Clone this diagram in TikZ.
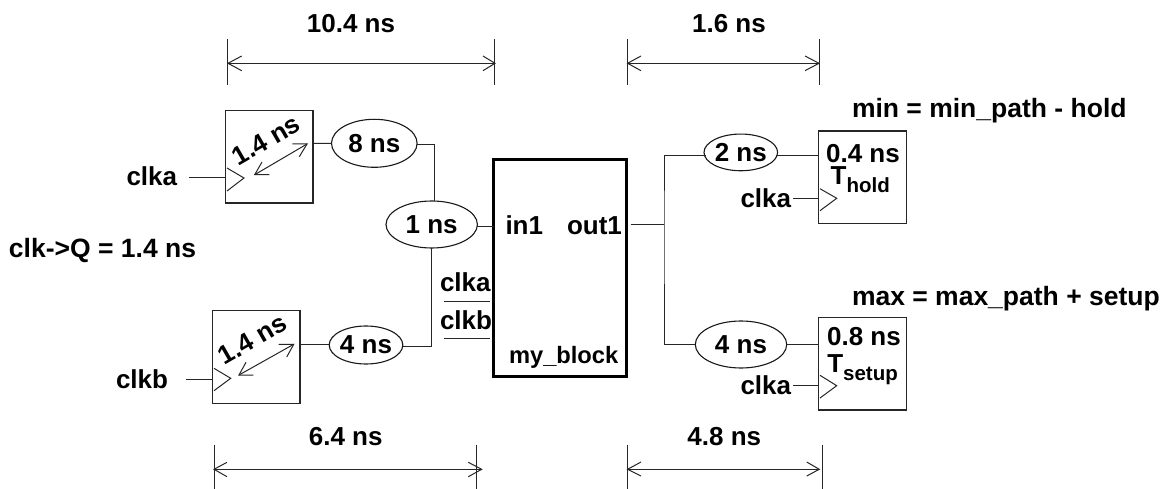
\documentclass[tikz,border=0pt]{standalone}
\usepackage{fontspec}
\setmainfont{Liberation Sans}
\usetikzlibrary{shapes.geometric}
\newcommand{\lbl}{\fontsize{26}{30}\selectfont\bfseries}
\newcommand{\lblb}{\fontsize{26.5}{30}\selectfont\bfseries}
\newcommand{\subl}{\fontsize{20.5}{24}\selectfont\bfseries}
\tikzset{
  wire/.style={line width=1pt,draw=black!85},
  dly/.style={ellipse,draw=black!90,line width=1.1pt,inner sep=0pt,outer sep=0pt,font=\lbl},
  ff/.style={rectangle,draw=black!85,line width=1.2pt,inner sep=0pt,outer sep=0pt,minimum width=87.5pt,minimum height=92.5pt},
  txt/.style={inner sep=0pt,outer sep=0pt,font=\lbl,anchor=base},
  txtl/.style={inner sep=0pt,outer sep=0pt,font=\lbl,anchor=base west},
  txtb/.style={inner sep=0pt,outer sep=0pt,font=\lblb,anchor=base west},
  smalltxt/.style={inner sep=0pt,outer sep=0pt,font=\fontsize{23.7}{28}\selectfont\bfseries,anchor=base west},
}
\begin{document}
\begin{tikzpicture}[x=1pt,y=-1pt,line join=miter]
\useasboundingbox (0,0) rectangle (1167,489);
% blocks
\node[ff] (ffa) at (269.3,156.8) {};
\node[ff] (ffb) at (256.2,357) {};
\node[ff] (ffh) at (862.5,177.2) {};
\node[ff] (ffs) at (862.5,363.8) {};
\node[rectangle,draw=black,line width=3pt,inner sep=0pt,outer sep=0pt,minimum width=132.7pt,minimum height=216.7pt] (blk) at (560.3,268.3) {};
% delays
\node[dly,minimum width=85.6pt,minimum height=48pt] (d8) at (374.3,143.3) {8 ns};
\node[dly,minimum width=91.4pt,minimum height=47pt] (d1) at (431.7,224.5) {1 ns};
\node[dly,minimum width=73.4pt,minimum height=38pt] (d4) at (366,345) {4 ns};
\node[dly,minimum width=69.7pt,minimum height=36.7pt] (d2) at (740.8,152.4) {2 ns};
\node[dly,minimum width=91.4pt,minimum height=47pt] (d4r) at (741,344.5) {4 ns};
% helper coordinates
\coordinate (j8a) at (331.7,143.5);
\coordinate (j8b) at (417,144.5);
\coordinate (j1t) at (434.7,201.5);
\coordinate (j1b) at (431.7,248);
\coordinate (j4) at (402.7,346);
\coordinate (in1w) at (477.3,227);
\coordinate (in1e) at (494,227);
\coordinate (ffao) at (313,143.3);
\coordinate (ffbo) at (300,344.7);
\coordinate (d4w) at (329.3,344.7);
\coordinate (outa) at (630.7,225);
\coordinate (outj) at (664,225);
\coordinate (outt) at (706,155.7);
\coordinate (outb) at (695.3,344);
\coordinate (d2e) at (775.7,155.5);
\coordinate (hi) at (819,155.5);
\coordinate (d4e) at (786.7,344.7);
\coordinate (si) at (819,344.7);
\coordinate (cai) at (189,178);
\coordinate (caf) at (225.5,178);
\coordinate (cbi) at (186,379.3);
\coordinate (cbf) at (212.3,379.3);
\coordinate (chi) at (793,199);
\coordinate (chf) at (819,199);
\coordinate (csi) at (793,385);
\coordinate (csf) at (819,385);
% wires
\draw[wire] (ffao) -- (j8a);
\draw[wire] (j8b) -| (j1t);
\draw[wire] (j1b) |- (j4);
\draw[wire] (ffbo) -- (d4w);
\draw[wire] (in1w) -- (in1e);
\draw[wire] (outa) -- (outj);
\draw[wire] (outb) -| (outj) |- (outt);
\draw[wire] (d2e) -- (hi);
\draw[wire] (d4e) -- (si);
\draw[wire] (cai) -- (caf);
\draw[wire] (cbi) -- (cbf);
\draw[wire] (chi) -- (chf);
\draw[wire] (csi) -- (csf);
% clock triangles
\draw[wire] (227,168) -- (244,178) -- (227,191);
\draw[wire] (214,368.3) -- (230.7,378.3) -- (214,390.7);
\draw[wire] (820,188.7) -- (836.7,198.3) -- (820,210.7);
\draw[wire] (820,375.3) -- (836.7,385.7) -- (820,398);
% clock-to-Q arrows
\coordinate (aa) at (254.7,174.7); \coordinate (ab) at (307,144);
\draw[wire] (aa) -- (ab);
\draw[wire] (292.3,144) -- (ab) -- (299.3,156.7);
\draw[wire] (269.3,174.7) -- (aa) -- (262,162);
\coordinate (ba) at (239,375); \coordinate (bb) at (293.7,344.3);
\draw[wire] (ba) -- (bb);
\draw[wire] (278.7,344.3) -- (bb) -- (286.7,357);
\draw[wire] (253.3,375) -- (ba) -- (246,362.3);
% dimension ticks
\coordinate (t1a) at (227.7,39); \coordinate (t1b) at (227.7,85);
\coordinate (t2a) at (494.7,39); \coordinate (t2b) at (494.7,85);
\coordinate (t3a) at (627.3,39); \coordinate (t3b) at (627.3,85);
\coordinate (t4a) at (819,39); \coordinate (t4b) at (819,85);
\coordinate (t5a) at (214.7,444.7); \coordinate (t5b) at (214.7,489);
\coordinate (t6a) at (476.7,444.7); \coordinate (t6b) at (476.7,489);
\coordinate (t7a) at (627.3,444.7); \coordinate (t7b) at (627.3,489);
\coordinate (t8a) at (822,444.7); \coordinate (t8b) at (822,489);
\foreach \k in {1,...,8} {\draw[wire] (t\k a) -- (t\k b);}
% dimension arrows
\coordinate (a1l) at (228,63.3); \coordinate (a1r) at (495,63.3);
\draw[wire] (a1l) -- (a1r);
\draw[wire] (241.7,56) -- (a1l) -- (241.7,70.7);
\draw[wire] (483,56) -- (a1r) -- (483,70.7);
\coordinate (a2l) at (627.6,63.3); \coordinate (a2r) at (819,63.3);
\draw[wire] (a2l) -- (a2r);
\draw[wire] (641,56) -- (a2l) -- (641,70.7);
\draw[wire] (805,56) -- (a2r) -- (805,70.7);
\coordinate (a3l) at (214,469.3); \coordinate (a3r) at (481.7,469.3);
\draw[wire] (a3l) -- (a3r);
\draw[wire] (227,462.3) -- (a3l) -- (227,476.7);
\draw[wire] (468.3,462.3) -- (a3r) -- (468.3,476.7);
\coordinate (a4l) at (627.6,469.3); \coordinate (a4r) at (819.3,469.3);
\draw[wire] (a4l) -- (a4r);
\draw[wire] (641,462) -- (a4l) -- (641,476);
\draw[wire] (806.7,462) -- (a4r) -- (806.7,476);
% clka/clkb underlines
\coordinate (u1a) at (444,301); \coordinate (u1b) at (490,301);
\coordinate (u2a) at (444,338.3); \coordinate (u2b) at (490,338.3);
\draw[wire] (u1a) -- (u1b);
\draw[wire] (u2a) -- (u2b);
% texts
\node[txt] (l1) at (351,32.3) {10.4 ns};
\node[txt] (l2) at (729,32.3) {1.6 ns};
\node[txt] (l3) at (345.7,445) {6.4 ns};
\node[txt] (l4) at (724.3,445) {4.8 ns};
\node[txtb] (l5) at (852,118) {min = min\_path - hold};
\node[txtb] (l6) at (852,305) {max = max\_path + setup};
\node[txtb] (l7) at (9,257.7) {clk->Q = 1.4 ns};
\node[txtl] (l8) at (126.5,186) {clka};
\node[txtl] (l9) at (116,388.3) {clkb};
\node[txtl] (l10) at (440,291.7) {clka};
\node[txtl] (l11) at (440,329) {clkb};
\node[txtl] (l12) at (505.5,235) {in1};
\node[txtl] (l13) at (567,235) {out1};
\node[smalltxt] (l14) at (509,363.5) {my\_block};
\node[txtl] (l15) at (740.5,207.7) {clka};
\node[txtl] (l16) at (740.5,394) {clka};
\node[txt] (l17) at (863,162.7) {0.4 ns};
\node[txt] (l18) at (864,345.7) {0.8 ns};
\node[txtl] (l19) at (830.7,185) {T\raisebox{-7.7pt}{\subl hold}};
\node[txtl] (l20) at (827.3,372.7) {T\raisebox{-7.7pt}{\subl setup}};
\node[inner sep=0pt,outer sep=0pt,font=\lbl,rotate=30] (l21) at (266,140) {1.4 ns};
\node[inner sep=0pt,outer sep=0pt,font=\lbl,rotate=30] (l22) at (252.3,339.3) {1.4 ns};
\end{tikzpicture}
\end{document}
